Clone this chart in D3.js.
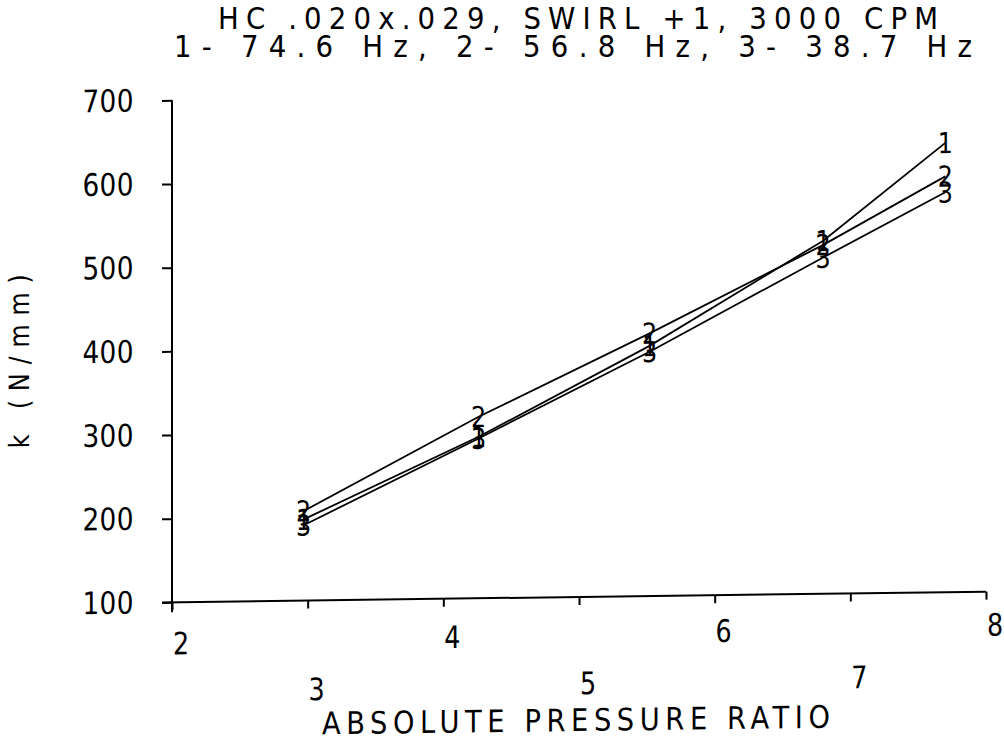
<!DOCTYPE html>
<html>
<head>
<meta charset="utf-8">
<script src="https://cdn.jsdelivr.net/npm/d3@7"></script>
<style>
  html, body { margin: 0; padding: 0; background: #fff; }
  svg { display: block; }
  text { font-family: "DejaVu Sans", "Liberation Sans", sans-serif; fill: #000; }
</style>
</head>
<body>
<svg id="chart" width="1004" height="741"></svg>
<script>
// ---- data ----
const titleLines = ["HC .020x.029, SWIRL +1, 3000 CPM", "1- 74.6 Hz, 2- 56.8 Hz, 3- 38.7 Hz"];
const xLabel = "ABSOLUTE PRESSURE RATIO";
const yLabel = "k  (N/mm)";
const xTicks = [2, 3, 4, 5, 6, 7, 8];
const yTicks = [100, 200, 300, 400, 500, 600, 700];
const pressureRatio = [2.97, 4.26, 5.52, 6.80, 7.70];
const k1 = [197, 293, 399, 522, 637];   // 1 - 74.6 Hz
const k2 = [207, 317, 414, 517, 597];   // 2 - 56.8 Hz
const k3 = [190, 291, 392, 502, 578];   // 3 - 38.7 Hz
const seriesNames = ["1", "2", "3"];
const seriesValues = [k1, k2, k3];

// ---- helpers ----
function narrowText(sel, cx, cy, width, sx) {
  sx = sx || 0.82;
  sel.attr("x", cx).attr("y", cy)
    .attr("transform", `translate(${cx},0) scale(${sx},1) translate(${-cx},0)`);
  if (width) sel.attr("textLength", width / sx).attr("lengthAdjust", "spacing");
  return sel;
}

// ---- layout ----
const svg = d3.select("#chart");
svg.append("rect").attr("width", 1004).attr("height", 741).attr("fill", "#fff");

// title
narrowText(svg.append("text").attr("text-anchor", "middle").attr("font-size", 30).text(titleLines[0]), 578, 29, 720, 0.92);
narrowText(svg.append("text").attr("text-anchor", "middle").attr("font-size", 30).text(titleLines[1]), 573, 57, 798, 0.92);

const g = svg.append("g")
  .attr("transform", "translate(500,370) skewY(-0.75) translate(-500,-370)");

const x = d3.scaleLinear().domain([2, 8]).range([172, 986]);
const y = d3.scaleLinear().domain([100, 700]).range([598, 96]);

// y axis
const yAxis = g.append("g").attr("transform", `translate(${x(2)},0)`)
  .call(d3.axisLeft(y).tickValues(yTicks).tickSize(10).tickFormat(""));
yAxis.select(".domain").attr("d", `M0,${y(700)}V${y(100) + 10}`).attr("stroke", "#000").attr("stroke-width", 2);
yAxis.selectAll(".tick line").attr("stroke", "#000").attr("stroke-width", 2);
g.append("g").selectAll("text").data(yTicks).join("text")
  .attr("text-anchor", "middle").attr("dominant-baseline", "central").attr("font-size", 31)
  .text(d => d)
  .each(function (d) { narrowText(d3.select(this), 108, y(d), 51, 0.85); });

// x axis
const xAxis = g.append("g").attr("transform", `translate(0,${y(100)})`)
  .call(d3.axisBottom(x).tickValues(xTicks).tickSize(8).tickFormat(""));
xAxis.select(".domain").attr("d", `M${x(2) - 10},0H${x(8)}`).attr("stroke", "#000").attr("stroke-width", 2);
xAxis.selectAll(".tick line").attr("stroke", "#000").attr("stroke-width", 2);

// staggered x tick labels
g.append("g").selectAll("text").data(xTicks).join("text")
  .attr("text-anchor", "middle").attr("font-size", 31)
  .text(d => d)
  .each(function (d) {
    const ly = (d % 2 === 0 ? 647 : 696) - (d % 2 === 0 ? 0.01 : 0.009) * (x(d) - 500);
    narrowText(d3.select(this), x(d) + 9, ly);
  });

// axis titles
narrowText(g.append("text").attr("text-anchor", "middle").attr("font-size", 31).text(xLabel), 576, 732, 508, 0.88);
g.append("text").attr("transform", "translate(19,355) rotate(-90) scale(0.85,1)")
  .attr("text-anchor", "middle").attr("dominant-baseline", "central")
  .attr("font-size", 28).attr("textLength", 174 / 0.85).attr("lengthAdjust", "spacing")
  .text(yLabel);

// series lines + number markers
const line = d3.line().x(d => x(d[0])).y(d => y(d[1]));
seriesValues.forEach((vals, i) => {
  const pts = pressureRatio.map((p, j) => [p, vals[j]]);
  g.append("path").datum(pts).attr("d", line)
    .attr("fill", "none").attr("stroke", "#000").attr("stroke-width", 1.8);
  g.append("g").selectAll("text").data(pts).join("text")
    .attr("text-anchor", "middle").attr("dominant-baseline", "central")
    .attr("font-size", 29)
    .text(seriesNames[i])
    .each(function (d) { narrowText(d3.select(this), x(d[0]), y(d[1])); });
});
</script>
</body>
</html>
